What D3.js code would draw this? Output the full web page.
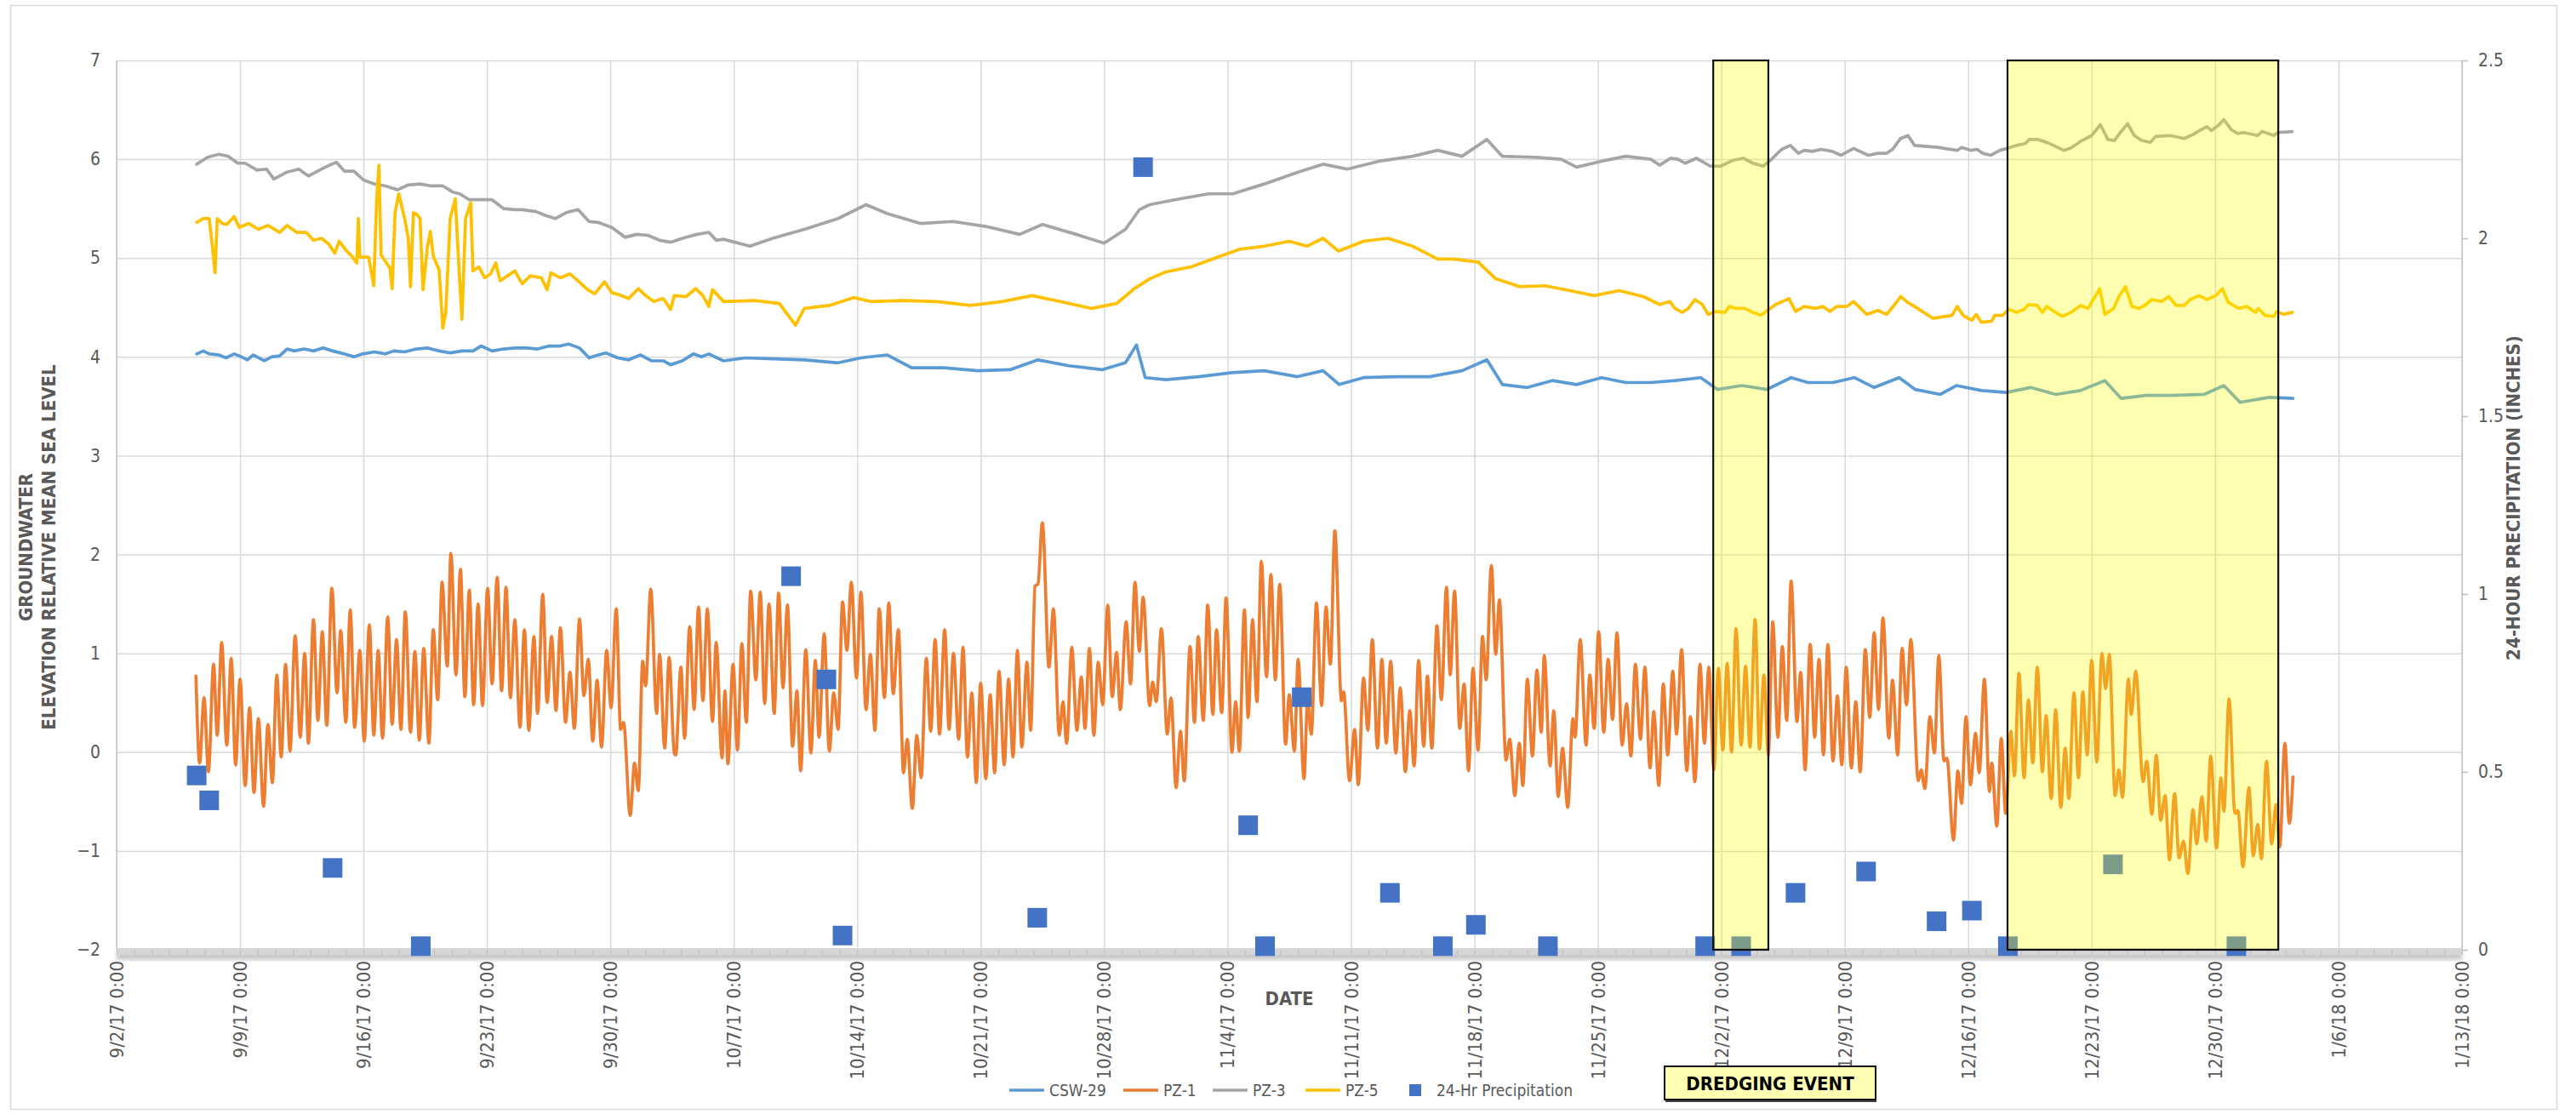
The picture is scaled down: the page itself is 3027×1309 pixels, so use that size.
<!DOCTYPE html>
<html>
<head>
<meta charset="utf-8">
<script src="https://cdn.jsdelivr.net/npm/d3@7"></script>
<style>
  body { margin: 0; background: #fff; }
  svg text { font-family: "Liberation Sans Narrow", "DejaVu Sans Condensed", "Arial Narrow", sans-serif; }
</style>
</head>
<body>
<svg id="chart" width="3027" height="1309"></svg>
<script>
// logger time is in hours since 9/6/17 0:00
const loggerStart = new Date(2017, 8, 6);

const xTickDates = ['2017-09-02', '2017-09-09', '2017-09-16', '2017-09-23', '2017-09-30', '2017-10-07',
    '2017-10-14', '2017-10-21', '2017-10-28', '2017-11-04', '2017-11-11', '2017-11-18', '2017-11-25',
    '2017-12-02', '2017-12-09', '2017-12-16', '2017-12-23', '2017-12-30', '2018-01-06', '2018-01-13'];
const leftTicks = [-2, -1, 0, 1, 2, 3, 4, 5, 6, 7];
const rightTicks = [0, 0.5, 1, 1.5, 2, 2.5];

const seriesNames = ['CSW-29', 'PZ-1', 'PZ-3', 'PZ-5'];
const seriesColors = ['#5B9BD5', '#ED7D31', '#A5A5A5', '#FFC000'];

const csw29 = [[13,4.03],[22,4.06],[30,4.03],[43,4.02],[53,3.99],[64,4.03],[74,4.00],[82,3.97],[90,4.02],[105,3.96],
    [115,4.00],[126,4.01],[136,4.08],[146,4.06],[159,4.08],[172,4.06],[185,4.09],[198,4.06],[214,4.03],[227,4.00],
    [239,4.03],[255,4.05],[270,4.03],[281,4.06],[296,4.05],[312,4.08],[327,4.09],[343,4.06],[358,4.04],[374,4.06],
    [389,4.06],[400,4.11],[415,4.06],[431,4.08],[446,4.09],[462,4.09],[477,4.08],[493,4.11],[508,4.11],[519,4.13],
    [534,4.09],[547,3.99],[560,4.02],[570,4.04],[586,3.99],[601,3.97],[617,4.02],[632,3.96],[648,3.96],[658,3.92],
    [674,3.96],[689,4.03],[700,4.00],[710,4.03],[730,3.96],[760,3.99],[797,3.98],[840,3.97],[886,3.94],[917,3.99],
    [953,4.02],[986,3.89],[1030,3.89],[1076,3.86],[1120,3.87],[1158,3.97],[1200,3.91],[1245,3.87],[1277,3.94],[1292,4.12],
    [1304,3.79],[1332,3.77],[1377,3.80],[1422,3.84],[1466,3.86],[1511,3.80],[1546,3.86],[1568,3.72],[1601,3.79],[1646,3.80],
    [1691,3.80],[1735,3.86],[1769,3.97],[1790,3.72],[1824,3.69],[1858,3.76],[1891,3.72],[1925,3.79],[1958,3.74],[1992,3.74],
    [2026,3.76],[2060,3.79],[2083,3.67],[2116,3.71],[2150,3.67],[2183,3.79],[2206,3.74],[2240,3.74],[2269,3.79],[2296,3.69],
    [2330,3.79],[2352,3.67],[2386,3.62],[2408,3.71],[2442,3.66],[2476,3.64],[2509,3.69],[2543,3.62],[2577,3.66],[2610,3.76],
    [2632,3.58],[2666,3.61],[2700,3.61],[2745,3.62],[2772,3.71],[2794,3.54],[2834,3.59],[2866,3.58]];

const pz1 = [[12,0.77],[17,-0.11],[23,0.55],[29,-0.2],[36,0.89],[41,0.17],[47,1.11],[54,0.07],[60,0.95],[66,-0.13],
    [72,0.74],[79,-0.34],[85,0.45],[91,-0.41],[97,0.34],[104,-0.55],[110,0.28],[116,-0.31],[122,0.78],[128,-0.05],
    [134,0.89],[140,0.01],[147,1.18],[154,0.15],[160,1.0],[165,0.09],[172,1.34],[178,0.32],[184,1.22],[190,0.27],
    [197,1.66],[204,0.6],[209,1.23],[216,0.3],[222,1.44],[228,0.25],[235,1.03],[241,0.11],[248,1.29],[254,0.17],
    [260,1.03],[266,0.14],[273,1.37],[279,0.28],[285,1.14],[291,0.23],[297,1.42],[304,0.2],[310,1.02],[316,0.12],
    [322,1.05],[329,0.09],[335,1.24],[341,0.53],[347,1.72],[354,0.87],[359,2.01],[366,0.78],[372,1.85],[378,0.56],
    [384,1.64],[390,0.48],[396,1.5],[402,0.47],[409,1.66],[415,0.69],[422,1.77],[428,0.62],[434,1.67],[440,0.55],
    [446,1.34],[453,0.25],[459,1.24],[465,0.22],[472,1.17],[477,0.39],[484,1.6],[490,0.5],[496,1.17],[502,0.42],
    [508,1.26],[515,0.3],[521,0.81],[527,0.24],[534,1.35],[540,0.57],[546,0.94],[552,0.11],[558,0.73],[564,0.05],
    [571,1.03],[577,0.45],[584,1.45],[590,0.23],[594,0.3],[603,-0.64],[609,-0.11],[614,-0.39],
    [620,0.92],[624,0.67],[631,1.65],[639,0.39],[643,0.99],[650,0.04],[656,0.96],[663,-0.01],[665,-0.03],[672,0.86],
    [677,0.14],[684,1.27],[690,0.43],[696,1.47],[702,0.52],[708,1.45],[715,0.31],[720,1.11],[728,-0.06],[732,0.62],
    [736,-0.12],[743,0.89],[749,0.02],[755,1.1],[761,0.3],[767,1.63],[774,0.73],[780,1.62],[786,0.49],[792,1.5],
    [799,0.39],[805,1.61],[811,0.65],[817,1.49],[824,0.06],[830,0.62],[835,-0.19],[842,1.04],[849,-0.01],[855,0.93],
    [860,0.15],[867,1.2],[874,0.01],[880,0.6],[886,0.23],[892,1.52],[898,1.03],[904,1.72],[911,0.75],[917,1.62],
    [924,0.43],[930,0.99],[936,0.22],[942,1.45],[949,0.55],[955,1.51],[961,0.59],[968,1.24],[975,-0.21],[980,0.13],
    [987,-0.57],[993,0.17],[999,-0.26],[1006,0.95],[1012,0.21],[1018,1.14],[1024,0.18],[1031,1.24],[1037,0.23],[1043,1.0],
    [1050,0.13],[1056,1.06],[1062,-0.05],[1068,0.6],[1074,-0.31],[1080,0.7],[1087,-0.27],[1093,0.58],[1099,-0.21],[1105,0.82],
    [1112,-0.13],[1118,0.74],[1124,-0.05],[1130,1.03],[1136,0.05],[1143,0.91],[1148,0.22],[1154,1.68],[1158,1.7],[1164,2.32],
    [1173,0.86],[1179,1.45],[1187,0.17],[1192,0.51],[1197,0.09],[1204,1.06],[1211,0.22],[1217,0.76],[1222,0.24],[1228,1.05],
    [1234,0.17],[1240,0.91],[1246,0.48],[1253,1.49],[1259,0.56],[1265,1.01],[1270,0.43],[1278,1.32],[1284,0.69],[1290,1.72],
    [1296,1.02],[1301,1.57],[1310,0.47],[1314,0.71],[1319,0.51],[1326,1.25],[1334,0.18],[1339,0.55],[1346,-0.36],[1352,0.21],
    [1357,-0.29],[1365,1.07],[1371,0.3],[1376,1.17],[1383,0.32],[1389,1.49],[1396,0.38],[1401,1.24],[1408,0.4],[1414,1.56],
    [1422,0.0],[1427,0.51],[1432,0.01],[1439,1.44],[1444,0.35],[1450,1.34],[1456,0.51],[1462,1.93],[1469,0.76],[1475,1.8],
    [1481,0.73],[1487,1.7],[1495,0.08],[1500,0.58],[1507,0.01],[1512,0.94],[1520,-0.27],[1525,0.53],[1530,0.18],[1537,1.51],
    [1544,0.47],[1550,1.47],[1556,0.89],[1562,2.24],[1571,0.52],[1574,0.61],[1582,-0.29],[1589,0.23],[1594,-0.33],[1601,0.75],
    [1607,0.22],[1613,1.14],[1620,0.04],[1626,0.94],[1632,0.09],[1638,0.92],[1645,-0.01],[1651,0.65],[1658,-0.2],[1664,0.42],
    [1670,-0.14],[1676,0.93],[1683,0.06],[1688,0.77],[1694,0.04],[1701,1.28],[1707,0.53],[1714,1.67],[1719,0.78],[1725,1.63],
    [1732,0.24],[1738,0.69],[1744,-0.19],[1750,0.85],[1757,0.02],[1763,1.17],[1768,0.73],[1775,1.89],[1781,0.99],[1786,1.54],
    [1795,-0.08],[1800,0.13],[1807,-0.44],[1813,0.09],[1818,-0.34],[1824,0.74],[1831,-0.04],[1837,0.83],[1843,0.2],
    [1847,0.98],[1855,-0.14],[1860,0.42],[1866,-0.45],[1872,0.04],[1879,-0.56],[1886,0.34],[1889,0.15],[1896,1.14],[1904,0.07],
    [1909,0.78],[1915,0.24],[1921,1.22],[1928,0.2],[1934,0.94],[1940,0.33],[1946,1.21],[1953,0.07],[1959,0.49],[1965,-0.04],
    [1971,0.89],[1978,0.13],[1984,0.86],[1991,-0.16],[1996,0.41],[2003,-0.34],[2009,0.69],[2015,-0.03],[2022,0.82],[2027,0.18],
    [2034,1.04],[2041,-0.19],[2046,0.36],[2052,-0.3],[2059,0.89],[2065,0.09],[2071,0.86],[2078,-0.18],[2084,0.85],[2090,0.02],
    [2096,0.9],[2102,0.0],[2108,1.25],[2115,0.07],[2121,0.87],[2127,0.05],[2134,1.34],[2140,0.03],[2146,0.78],[2152,-0.03],
    [2158,1.32],[2165,0.15],[2171,1.07],[2177,0.32],[2183,1.73],[2191,0.31],[2196,0.81],[2202,-0.18],[2209,1.09],[2215,0.15],
    [2221,0.94],[2227,-0.03],[2233,1.09],[2240,-0.09],[2246,0.57],[2252,-0.13],[2258,0.86],[2265,-0.16],[2271,0.51],[2277,-0.2],
    [2284,1.04],[2290,0.35],[2296,1.21],[2302,0.43],[2308,1.36],[2316,0.14],[2321,0.73],[2328,-0.03],[2334,1.05],[2340,0.48],
    [2346,1.14],[2356,-0.29],[2360,-0.18],[2365,-0.37],[2372,0.36],[2378,-0.01],[2384,0.98],[2391,-0.09],[2395,-0.06],[2404,-0.89],
    [2410,-0.19],[2415,-0.52],[2421,0.36],[2427,-0.33],[2434,0.19],[2439,-0.21],[2446,0.74],[2453,-0.4],
    [2456,-0.11],[2463,-0.75],[2469,0.14],[2475,-0.62],[2482,0.21],[2487,-0.24],[2493,0.8],[2500,-0.26],[2506,0.53],[2512,-0.11],
    [2518,0.86],[2525,-0.2],[2530,0.37],[2537,-0.47],[2543,0.43],[2550,-0.56],[2556,0.04],[2561,-0.47],[2568,0.6],[2574,-0.26],
    [2580,0.61],[2586,-0.03],[2592,0.93],[2599,-0.1],[2606,1.0],[2611,0.64],[2616,0.99],[2624,-0.44],[2629,-0.18],[2634,-0.46],
    [2642,0.74],[2646,0.38],[2652,0.82],[2662,-0.3],[2667,-0.09],[2674,-0.63],[2680,-0.03],[2686,-0.69],[2692,-0.44],[2698,-1.09],
    [2705,-0.42],[2711,-1.07],[2717,-0.9],[2723,-1.23],[2730,-0.58],[2735,-0.93],[2742,-0.45],[2748,-0.9],[2754,-0.04],[2762,-0.97],
    [2768,-0.26],[2772,-0.6],[2779,0.54],[2787,-0.62],[2791,-0.59],[2798,-1.16],[2806,-0.36],[2812,-1.05],[2818,-0.73],[2823,-1.08],
    [2830,-0.09],[2837,-0.93],[2843,-0.53],[2848,-0.96],[2855,0.09],[2861,-0.72],[2866,-0.25]];

const pz3 = [[13,5.95],[28,6.02],[43,6.05],[56,6.03],[69,5.96],[79,5.96],[95,5.89],[108,5.9],[118,5.8],[136,5.87],
    [152,5.9],[165,5.83],[188,5.92],[203,5.97],[214,5.88],[227,5.88],[240,5.79],[255,5.75],[270,5.73],[286,5.69],
    [301,5.74],[317,5.75],[332,5.73],[348,5.73],[361,5.67],[371,5.65],[384,5.59],[400,5.59],[415,5.59],[431,5.5],
    [446,5.49],[456,5.49],[475,5.47],[488,5.43],[501,5.4],[516,5.46],[532,5.49],[547,5.37],[560,5.36],[578,5.31],
    [596,5.21],[612,5.24],[627,5.23],[643,5.18],[658,5.16],[674,5.2],[694,5.24],[710,5.26],[720,5.18],[730,5.19],
    [766,5.12],[797,5.2],[840,5.29],[886,5.4],[924,5.54],[953,5.45],[998,5.35],[1042,5.37],[1087,5.32],[1133,5.24],
    [1164,5.34],[1210,5.24],[1248,5.15],[1277,5.29],[1296,5.49],[1310,5.54],[1344,5.59],[1390,5.65],[1423,5.65],[1466,5.75],
    [1512,5.87],[1546,5.95],[1579,5.9],[1622,5.98],[1668,6.03],[1702,6.09],[1735,6.03],[1769,6.2],[1790,6.03],[1836,6.02],
    [1870,6.0],[1891,5.92],[1925,5.98],[1958,6.03],[1992,6.0],[2004,5.94],[2019,6.01],[2029,6.0],[2039,5.96],[2054,6.01],
    [2073,5.93],[2087,5.93],[2104,5.99],[2118,6.01],[2131,5.96],[2145,5.93],[2155,5.99],[2170,6.1],[2182,6.14],[2193,6.06],
    [2201,6.09],[2212,6.08],[2224,6.1],[2239,6.08],[2251,6.04],[2268,6.11],[2288,6.04],[2301,6.06],[2313,6.06],[2321,6.1],
    [2332,6.21],[2342,6.24],[2351,6.14],[2383,6.12],[2409,6.09],[2415,6.12],[2428,6.09],[2436,6.1],[2444,6.06],[2455,6.04],
    [2467,6.09],[2477,6.11],[2490,6.14],[2502,6.16],[2507,6.2],[2519,6.2],[2531,6.17],[2540,6.14],[2554,6.09],[2563,6.11],
    [2579,6.19],[2592,6.24],[2604,6.35],[2614,6.2],[2623,6.19],[2631,6.27],[2641,6.36],[2650,6.24],[2660,6.19],[2672,6.17],
    [2679,6.23],[2699,6.24],[2718,6.21],[2730,6.25],[2741,6.3],[2749,6.33],[2755,6.29],[2764,6.34],[2772,6.4],[2782,6.3],
    [2791,6.26],[2799,6.27],[2818,6.24],[2824,6.28],[2840,6.24],[2845,6.27],[2865,6.28]];

const pz5 = [[13,5.36],[22,5.4],[30,5.4],[34,5.14],[38,4.85],[41,5.4],[48,5.35],[54,5.34],[64,5.42],[71,5.31],
    [84,5.35],[97,5.29],[110,5.33],[126,5.26],[136,5.33],[149,5.26],[162,5.26],[172,5.18],[183,5.2],[193,5.14],
    [201,5.05],[207,5.17],[216,5.08],[224,5.02],[231,4.95],[233,5.4],[235,5.01],[247,5.01],[254,4.72],[258,5.6],
    [261,5.94],[264,5.03],[276,4.9],[279,4.69],[283,5.46],[288,5.65],[296,5.4],[301,5.2],[304,4.71],[308,5.46],
    [313,5.44],[317,5.4],[321,4.68],[327,5.11],[331,5.27],[335,5.02],[343,4.88],[348,4.29],[352,4.45],[358,5.4],
    [365,5.6],[369,5.03],[374,4.38],[379,5.4],[386,5.56],[389,4.87],[397,4.91],[405,4.8],[413,4.84],[420,4.95],
    [426,4.77],[436,4.82],[446,4.87],[456,4.74],[467,4.82],[482,4.8],[490,4.68],[495,4.85],[508,4.8],[521,4.84],
    [532,4.77],[545,4.68],[555,4.64],[568,4.76],[578,4.65],[591,4.62],[601,4.59],[614,4.69],[624,4.62],[635,4.56],
    [648,4.59],[658,4.48],[663,4.62],[679,4.61],[692,4.69],[702,4.62],[710,4.51],[715,4.68],[730,4.56],[773,4.57],
    [806,4.54],[828,4.32],[840,4.49],[874,4.52],[907,4.6],[931,4.56],[974,4.57],[1020,4.56],[1066,4.52],[1109,4.56],
    [1150,4.62],[1188,4.56],[1231,4.49],[1265,4.54],[1289,4.69],[1310,4.79],[1332,4.86],[1366,4.91],[1399,5.0],[1433,5.09],
    [1466,5.12],[1500,5.17],[1524,5.12],[1546,5.2],[1567,5.07],[1601,5.17],[1634,5.2],[1668,5.12],[1702,4.99],[1723,4.99],
    [1757,4.96],[1781,4.79],[1814,4.71],[1848,4.72],[1882,4.67],[1915,4.62],[1949,4.67],[1982,4.61],[2004,4.53],[2018,4.56],
    [2025,4.49],[2035,4.45],[2043,4.49],[2052,4.58],[2062,4.53],[2070,4.43],[2081,4.46],[2093,4.45],[2099,4.51],[2108,4.49],
    [2120,4.49],[2131,4.45],[2142,4.42],[2151,4.47],[2162,4.53],[2180,4.59],[2189,4.46],[2201,4.51],[2216,4.49],[2226,4.51],
    [2236,4.46],[2245,4.51],[2259,4.51],[2268,4.56],[2286,4.43],[2301,4.47],[2313,4.43],[2324,4.53],[2332,4.61],[2342,4.55],
    [2351,4.51],[2376,4.39],[2402,4.42],[2409,4.51],[2417,4.42],[2429,4.37],[2435,4.43],[2442,4.35],[2456,4.36],[2460,4.42],
    [2471,4.42],[2479,4.48],[2490,4.45],[2500,4.48],[2506,4.53],[2518,4.52],[2525,4.45],[2531,4.51],[2541,4.46],[2552,4.41],
    [2564,4.45],[2577,4.52],[2587,4.49],[2595,4.59],[2603,4.69],[2610,4.43],[2622,4.49],[2629,4.61],[2638,4.71],[2647,4.51],
    [2657,4.49],[2664,4.52],[2674,4.58],[2687,4.56],[2697,4.61],[2707,4.52],[2718,4.52],[2726,4.58],[2738,4.62],[2749,4.58],
    [2761,4.62],[2770,4.69],[2778,4.55],[2792,4.49],[2803,4.51],[2815,4.45],[2819,4.49],[2828,4.42],[2840,4.41],[2844,4.46],
    [2853,4.43],[2865,4.45]];

// 24-hr precipitation, inches
const precip = [[13,0.49],[30,0.42],[198,0.23],[318,0.01],[822,1.05],[870,0.76],[892,0.04],[1157,0.09],[1301,2.2],
    [1444,0.35],[1467,0.01],[1517,0.71],[1637,0.16],[1709,0.01],[1754,0.07],[1852,0.01],[2066,0.01],[2115,0.01],
    [2189,0.16],[2285,0.22],[2381,0.08],[2429,0.11],[2478,0.01],[2621,0.24],[2789,0.01]];

const dredging = [['2017-12-01 13:00', '2017-12-04 16:00'], ['2017-12-18 05:30', '2018-01-02 14:00']];

const svg = d3.select('#chart');
const pL = 137, pR = 2893, pT = 71, pB = 1116;
const parseDay = d3.timeParse('%Y-%m-%d');
const parseTime = d3.timeParse('%Y-%m-%d %H:%M');
const at = h => new Date(loggerStart.getTime() + h * 3600e3);
const tickDates = xTickDates.map(parseDay);

const x = d3.scaleTime().domain([tickDates[0], tickDates[tickDates.length - 1]]).range([pL, pR]);
const y = d3.scaleLinear().domain([-2, 7]).range([pB, pT]);
const y2 = d3.scaleLinear().domain([0, 2.5]).range([pB, pT]);

// chart frame
svg.append('rect').attr('x', 12.5).attr('y', 6.5).attr('width', 2992).attr('height', 1297)
    .attr('fill', '#fff').attr('stroke', '#d9d9d9').attr('stroke-width', 1.5);

// gridlines
svg.append('g').attr('transform', `translate(${pL},0)`)
    .call(d3.axisLeft(y).tickValues(leftTicks).tickSize(-(pR - pL)).tickFormat(''))
    .call(g => g.select('.domain').remove())
    .call(g => g.selectAll('line').attr('stroke', '#d9d9d9').attr('stroke-width', 1.5));
svg.append('g').attr('transform', `translate(0,${pB})`)
    .call(d3.axisBottom(x).tickValues(tickDates).tickSize(-(pB - pT)).tickFormat(''))
    .call(g => g.select('.domain').remove())
    .call(g => g.selectAll('line').attr('stroke', '#d9d9d9').attr('stroke-width', 1.5));

// plot area edges with a soft shadow
const defs = svg.append('defs');
const blur = defs.append('filter').attr('id', 'shadow').attr('x', '-20%').attr('y', '-20%').attr('width', '140%').attr('height', '140%');
blur.append('feGaussianBlur').attr('stdDeviation', 2.5);
svg.append('line').attr('x1', pL + 2).attr('x2', pL + 2).attr('y1', pT).attr('y2', pB + 6)
    .attr('stroke', '#bbb').attr('stroke-width', 4).attr('filter', 'url(#shadow)');
svg.append('line').attr('x1', pR + 2).attr('x2', pR + 2).attr('y1', pT).attr('y2', pB + 6)
    .attr('stroke', '#bbb').attr('stroke-width', 4).attr('filter', 'url(#shadow)');
svg.append('rect').attr('x', pL).attr('y', pB + 2).attr('width', pR - pL).attr('height', 10)
    .attr('fill', '#c8c8c8').attr('filter', 'url(#shadow)');
svg.append('line').attr('x1', pL).attr('x2', pL).attr('y1', pT).attr('y2', pB)
    .attr('stroke', '#c6c6c6').attr('stroke-width', 1.5);
svg.append('line').attr('x1', pR).attr('x2', pR).attr('y1', pT).attr('y2', pB)
    .attr('stroke', '#c6c6c6').attr('stroke-width', 1.5);
svg.append('rect').attr('x', pL).attr('y', pB - 2).attr('width', pR - pL).attr('height', 8)
    .attr('fill', '#d6d6d6');

// daily minor ticks on the date axis
svg.append('g').attr('transform', `translate(0,${pB})`)
    .call(d3.axisBottom(x).ticks(d3.timeDay.every(1)).tickSize(6).tickFormat(''))
    .call(g => g.select('.domain').remove())
    .call(g => g.selectAll('line').attr('stroke', '#bdbdbd').attr('stroke-width', 1));

// series lines
const lineFor = curve => d3.line().x(d => x(at(d[0]))).y(d => y(d[1])).curve(curve);
const seriesData = [csw29, pz1, pz3, pz5];
seriesData.forEach((data, i) => {
    svg.append('path').datum(data)
        .attr('d', lineFor(i === 1 ? d3.curveMonotoneX : d3.curveLinear))
        .attr('fill', 'none').attr('stroke', seriesColors[i])
        .attr('stroke-width', 3.7).attr('stroke-linejoin', 'round').attr('stroke-linecap', 'round');
});

// precipitation markers
const m = 23;
svg.append('g').selectAll('rect').data(precip).join('rect')
    .attr('x', d => x(at(d[0])) - m / 2).attr('y', d => y2(d[1]) - m / 2)
    .attr('width', m).attr('height', m).attr('fill', '#4472C4');

// dredging windows
svg.append('g').selectAll('rect').data(dredging).join('rect')
    .attr('x', d => x(parseTime(d[0]))).attr('y', pT)
    .attr('width', d => x(parseTime(d[1])) - x(parseTime(d[0]))).attr('height', pB - pT)
    .attr('fill', 'rgb(255,255,0)').attr('fill-opacity', 0.3)
    .attr('stroke', '#111').attr('stroke-width', 2.2);

// axes labels
const tickColor = '#595959';
svg.append('g').attr('transform', `translate(${pL},0)`)
    .call(d3.axisLeft(y).tickValues(leftTicks).tickSize(0).tickPadding(19).tickFormat(d3.format('d')))
    .call(g => g.select('.domain').remove())
    .call(g => g.selectAll('text').attr('fill', tickColor).style('font-size', '21px'));

svg.append('g').attr('transform', `translate(${pR},0)`)
    .call(d3.axisRight(y2).tickValues(rightTicks).tickSize(7).tickPadding(12).tickFormat(d => String(d)))
    .call(g => g.select('.domain').remove())
    .call(g => g.selectAll('line').attr('stroke', '#bfbfbf').attr('stroke-width', 1.5))
    .call(g => g.selectAll('text').attr('fill', tickColor).style('font-size', '21px'));

const fmt = d3.timeFormat('%-m/%-d/%y %-H:%M');
svg.append('g').attr('transform', `translate(0,${pB})`)
    .call(d3.axisBottom(x).tickValues(tickDates).tickSize(0).tickFormat(fmt))
    .call(g => g.select('.domain').remove())
    .call(g => g.selectAll('text')
        .attr('fill', tickColor).style('font-size', '22px')
        .attr('text-anchor', 'end').attr('dy', null)
        .attr('dominant-baseline', 'central')
        .attr('transform', 'translate(0,13) rotate(-90)').attr('y', 0).attr('x', 0));

// axis titles
const titleColor = '#595959';
svg.append('text').attr('transform', 'translate(30,643) rotate(-90)')
    .attr('text-anchor', 'middle').attr('dominant-baseline', 'central')
    .attr('fill', titleColor).style('font-size', '22px').style('font-weight', 'bold').text('GROUNDWATER');
svg.append('text').attr('transform', 'translate(57,643) rotate(-90)')
    .attr('text-anchor', 'middle').attr('dominant-baseline', 'central')
    .attr('fill', titleColor).style('font-size', '22px').style('font-weight', 'bold')
    .text('ELEVATION RELATIVE MEAN SEA LEVEL');
svg.append('text').attr('transform', 'translate(2953,585) rotate(-90)')
    .attr('text-anchor', 'middle').attr('dominant-baseline', 'central')
    .attr('fill', titleColor).style('font-size', '22px').style('font-weight', 'bold')
    .text('24-HOUR PRECIPITATION (INCHES)');
svg.append('text').attr('x', 1515).attr('y', 1173)
    .attr('text-anchor', 'middle').attr('dominant-baseline', 'central')
    .attr('fill', titleColor).style('font-size', '22px').style('font-weight', 'bold').text('DATE');

// legend
const legendY = 1281;
const legendX = [1186, 1320, 1425, 1534];
seriesNames.forEach((name, i) => {
    svg.append('line').attr('x1', legendX[i]).attr('x2', legendX[i] + 41)
        .attr('y1', legendY).attr('y2', legendY)
        .attr('stroke', seriesColors[i]).attr('stroke-width', 3.7);
    svg.append('text').attr('x', legendX[i] + 47).attr('y', legendY)
        .attr('dominant-baseline', 'central').attr('fill', tickColor)
        .style('font-size', '19px').text(name);
});
svg.append('rect').attr('x', 1656).attr('y', legendY - 7).attr('width', 14).attr('height', 14).attr('fill', '#4472C4');
svg.append('text').attr('x', 1688).attr('y', legendY)
    .attr('dominant-baseline', 'central').attr('fill', tickColor)
    .style('font-size', '19px').text('24-Hr Precipitation');

// dredging legend box
svg.append('rect').attr('x', 1957).attr('y', 1256).attr('width', 248).attr('height', 39).attr('fill', '#444');
svg.append('rect').attr('x', 1956).attr('y', 1253).attr('width', 248).attr('height', 39)
    .attr('fill', '#FFFFB3').attr('stroke', '#111').attr('stroke-width', 2);
svg.append('text').attr('x', 2080).attr('y', 1273)
    .attr('text-anchor', 'middle').attr('dominant-baseline', 'central')
    .attr('fill', '#000').style('font-size', '22px').style('font-weight', 'bold').text('DREDGING EVENT');
</script>
</body>
</html>
